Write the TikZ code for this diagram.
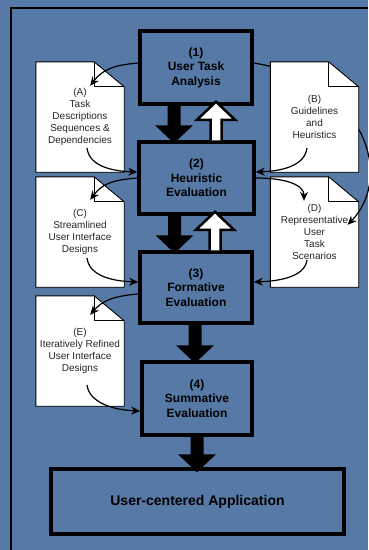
\documentclass[tikz,border=0pt]{standalone}
\usepackage{fontspec}
\setmainfont{Liberation Sans}
\usetikzlibrary{calc,arrows.meta}
\definecolor{bgblue}{RGB}{86,121,166}
\tikzset{
  stagebox/.style={draw=black, line width=3.5pt, align=center, inner sep=0pt,
    font=\bfseries\fontsize{12}{14.5}\selectfont},
  docnode/.style={inner sep=0pt, minimum width=88pt, minimum height=110pt},
  doctext/.style={align=center, inner sep=0pt, text=black!85,
    font=\fontsize{10}{12}\selectfont},
  docline/.style={draw=black, fill=white, line width=0.9pt, line join=miter},
  flow/.style={draw=black, line width=1.2pt, -{Stealth[length=9pt,width=8pt]}},
}
\newcommand\docpaper[1]{%
  \filldraw[docline] (#1.north west) -- ($(#1.north east)+(-30,0)$)
    -- ($(#1.north east)+(0,25)$) -- (#1.south east) -- (#1.south west) -- cycle;
  \draw[docline, fill=none] ($(#1.north east)+(-30,0)$) -- ($(#1.north east)+(-30,25)$)
    -- ($(#1.north east)+(0,25)$);
}
\newcommand\blackdown[4]{% from, to, xoffset, tip overlap
  \fill[black] let \p1=($(#1.south)+(#3,0)$), \p2=($(#2.north)+(#3,0)$) in
    (\x1-6.5pt,\y1) -- (\x1+6.5pt,\y1) -- (\x1+6.5pt,\y2+18pt-#4) -- (\x1+19pt,\y2+18pt-#4)
    -- (\x1,\y2-#4) -- (\x1-19pt,\y2+18pt-#4) -- (\x1-6.5pt,\y2+18pt-#4) -- cycle;
}
\newcommand\whiteup[3]{% lower, upper, xoffset
  \filldraw[fill=white, draw=black, line width=2.5pt, line join=miter]
    let \p1=($(#1.north)+(#3,0)$), \p2=($(#2.south)+(#3,0)$) in
    (\x1-5.5pt,\y1) -- (\x1-5.5pt,\y2-14pt) -- (\x1-19pt,\y2-14pt) -- (\x1,\y2+4pt)
    -- (\x1+19pt,\y2-14pt) -- (\x1+5.5pt,\y2-14pt) -- (\x1+5.5pt,\y1);
}
\begin{document}
\begin{tikzpicture}[x=1pt,y=-1pt]
  \useasboundingbox (0,0) rectangle (368,550);
  \fill[bgblue] (0,0) rectangle (368,550);
  \draw[black, line width=1.3pt] (11,550) -- (11,8) -- (368,8);

  % stage boxes
  \node[stagebox, minimum width=112pt, minimum height=73pt] (box1) at (196,67.5) {(1)\\User Task\\Analysis};
  \node[stagebox, minimum width=115pt, minimum height=72pt] (box2) at (196.5,178) {(2)\\Heuristic\\Evaluation};
  \node[stagebox, minimum width=112pt, minimum height=71pt] (box3) at (196,287.5) {(3)\\Formative\\Evaluation};
  \node[stagebox, minimum width=110pt, minimum height=73pt] (box4) at (197,398.5) {(4)\\Summative\\Evaluation};
  \node[stagebox, minimum width=293pt, minimum height=65pt, font=\bfseries\fontsize{14}{16}\selectfont] (final) at (197.5,501.5) {User-centered Application};

  % document placeholders
  \node[docnode] (A) at (80,117) {};
  \node[docnode] (B) at (314.5,117) {};
  \node[docnode] (C) at (80,232) {};
  \node[docnode] (D) at (314.5,232) {};
  \node[docnode] (E) at (80,351) {};

  \coordinate (Atip) at ($(A.north east)+(-34,24)$);
  \coordinate (Aout) at ($(A.center)+(7,31)$);
  \coordinate (Bout) at ($(B.center)+(-7.5,31)$);
  \coordinate (Ctip) at ($(C.north east)+(-34,23)$);
  \coordinate (Cout) at ($(C.center)+(7,26)$);
  \coordinate (Dtip) at ($(D.north east)+(-11,48)$);
  \coordinate (Dtop) at ($(D.north)+(-10.5,24)$);
  \coordinate (Dout) at ($(D.center)+(-7.5,28)$);
  \coordinate (Etip) at ($(E.north east)+(-34,19)$);
  \coordinate (Eout) at ($(E.center)+(7,34)$);

  \docpaper{A}
  \docpaper{C}
  \docpaper{E}
  \docpaper{D}
  \node[doctext] (Dtext) at (D.center) {(D)\\Representative\\User\\Task\\Scenarios};

  % long connector from (1) to (D), passing behind (B)
  \draw[flow] ($(box1.east)+(0,-4.5)$) .. controls +(108,17) and +(48,-50) .. (Dtip);

  \docpaper{B}
  \node[doctext] (Btext) at (B.center) {(B)\\Guidelines\\and\\Heuristics};
  \node[doctext] (Atext) at (A.center) {(A)\\Task\\Descriptions\\Sequences \&\\Dependencies};
  \node[doctext] (Ctext) at (C.center) {(C)\\Streamlined\\User Interface\\Designs};
  \node[doctext] (Etext) at (E.center) {(E)\\Iteratively Refined\\User Interface\\Designs};

  % block arrows
  \blackdown{box1}{box2}{-22}{3pt}
  \blackdown{box2}{box3}{-22}{3pt}
  \blackdown{box3}{box4}{-1}{3pt}
  \blackdown{box4}{final}{0}{5pt}
  \whiteup{box2}{box1}{19.5}
  \whiteup{box3}{box2}{19}

  % left connectors
  \draw[flow] ($(box1.west)+(0,-4.5)$) .. controls +(-25,2) and +(12,-16) .. (Atip);
  \draw[flow] (Aout) .. controls +(2,17) and +(-28,-1) .. ($(box2.west)+(0,-6)$);
  \draw[flow] (box2.west) .. controls +(-25,2) and +(12,-16) .. (Ctip);
  \draw[flow] (Cout) .. controls +(2,17) and +(-28,-1) .. ($(box3.west)+(0,-5.5)$);
  \draw[flow] ($(box3.west)+(0,6.5)$) .. controls +(-25,2) and +(12,-14) .. (Etip);
  \draw[flow] (Eout) .. controls +(2,17) and +(-28,-1) .. ($(box4.west)+(0,12.5)$);

  % right connectors
  \draw[flow] (Bout) .. controls +(-2,17) and +(28,-1) .. ($(box2.east)+(0,-6)$);
  \draw[flow] (box2.east) .. controls +(30,0) and +(0,-16) .. (Dtop);
  \draw[flow] (Dout) .. controls +(-2,16) and +(28,-1) .. ($(box3.east)+(0,-5.5)$);
\end{tikzpicture}
\end{document}
